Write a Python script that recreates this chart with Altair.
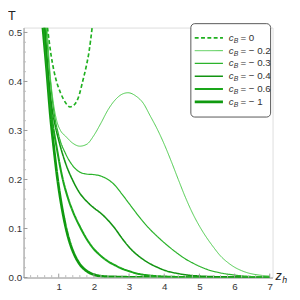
import altair as alt
import pandas as pd

# ---- data ----
names = ["0", "-0.2", "-0.3", "-0.4", "-0.6", "-1"]
labels = ["= 0", "= \u2212 0.2", "= \u2212 0.3", "= \u2212 0.4", "= \u2212 0.6", "= \u2212 1"]

z_c0 = [0.68, 0.78, 0.86, 0.95, 1.05, 1.2, 1.32, 1.45, 1.58, 1.68, 1.78, 1.86, 1.95]
t_c0 = [0.51, 0.455, 0.423, 0.397, 0.377, 0.356, 0.348, 0.353, 0.372, 0.400, 0.430, 0.460, 0.51]

z_c02 = [0.67, 0.75, 0.85, 0.95, 1.05, 1.2, 1.4, 1.6, 1.8, 2.0, 2.2, 2.4, 2.6, 2.8, 2.97, 3.2,
         3.4, 3.6, 3.8, 4.0, 4.2, 4.4, 4.6, 4.8, 5.0, 5.2, 5.4, 5.6, 5.8, 6.0, 6.2, 6.4, 6.7, 7.0]
t_c02 = [0.51, 0.42, 0.355, 0.318, 0.300, 0.288, 0.274, 0.268, 0.272, 0.290, 0.315, 0.342, 0.362,
         0.374, 0.377, 0.370, 0.356, 0.330, 0.303, 0.272, 0.237, 0.200, 0.164, 0.132, 0.105, 0.082,
         0.062, 0.044, 0.031, 0.021, 0.014, 0.009, 0.005, 0.003]

z_c03 = [0.64, 0.75, 0.85, 1.0, 1.2, 1.4, 1.6, 1.8, 2.0, 2.2, 2.4, 2.6, 2.8, 3.0, 3.2, 3.4, 3.6,
         3.8, 4.0, 4.2, 4.4, 4.6, 4.8, 5.0, 5.2, 5.5, 6.0, 6.5, 7.0]
t_c03 = [0.51, 0.41, 0.345, 0.29, 0.252, 0.228, 0.215, 0.211, 0.210, 0.207, 0.200, 0.188, 0.170,
         0.151, 0.132, 0.114, 0.098, 0.084, 0.071, 0.059, 0.048, 0.038, 0.030, 0.023, 0.017, 0.011,
         0.005, 0.002, 0.001]

z_c04 = [0.61, 0.7, 0.8, 0.9, 1.0, 1.2, 1.4, 1.6, 1.8, 2.0, 2.2, 2.4, 2.6, 2.8, 3.0, 3.2, 3.4,
         3.6, 3.8, 4.0, 4.4, 5.0, 6.0, 7.0]
t_c04 = [0.51, 0.42, 0.35, 0.31, 0.28, 0.232, 0.198, 0.172, 0.155, 0.142, 0.131, 0.117, 0.100,
         0.080, 0.062, 0.048, 0.037, 0.028, 0.021, 0.015, 0.008, 0.003, 0.001, 0.0]

z_c06 = [0.58, 0.7, 0.8, 0.95, 1.1, 1.25, 1.4, 1.6, 1.8, 2.0, 2.2, 2.4, 2.6, 2.8, 3.0, 3.3,
         3.6, 4.0, 5.0, 7.0]
t_c06 = [0.51, 0.40, 0.33, 0.262, 0.205, 0.165, 0.135, 0.104, 0.078, 0.058, 0.044, 0.033, 0.025,
         0.018, 0.013, 0.007, 0.004, 0.002, 0.0005, 0.0]

z_c1 = [0.55, 0.65, 0.78, 0.86, 0.95, 1.05, 1.15, 1.25, 1.35, 1.45, 1.6, 1.8, 2.0, 2.3, 2.7,
        3.2, 4.0, 5.0, 7.0]
t_c1 = [0.51, 0.43, 0.318, 0.265, 0.21, 0.16, 0.12, 0.088, 0.064, 0.046, 0.027, 0.013, 0.006,
        0.002, 0.001, 0.0003, 0.0, 0.0, 0.0]

x_major = [1, 2, 3, 4, 5, 6, 7]
y_major = [0.0, 0.1, 0.2, 0.3, 0.4, 0.5]
x_minor = [i / 5 for i in range(1, 36) if i % 5 != 0]
y_minor = [i / 50 for i in range(1, 26) if i % 5 != 0]

# ---- styles ----
colors = ["#1fb01f", "#47c847", "#2bb32b", "#129412", "#1aa61a", "#109a10"]
widths = [1.7, 1.0, 1.25, 1.6, 2.1, 2.8]
dashes = [[4, 2.5], [1, 0], [1, 0], [1, 0], [1, 0], [1, 0]]

series = [z_c0, z_c02, z_c03, z_c04, z_c06, z_c1]
tvals = [t_c0, t_c02, t_c03, t_c04, t_c06, t_c1]

W, H = 256, 257
xs = alt.Scale(domain=[0, 7.08], nice=False, zero=False)
ys = alt.Scale(domain=[0, 0.51], nice=False)
FONT = "Liberation Sans"
TXT = "#333333"

x_axis = alt.Axis(values=x_major, format="d", ticks=False, grid=False, title=None,
                  domainColor="#999999", labelColor=TXT, labelFont=FONT, labelFontSize=10,
                  labelPadding=4)
y_axis = alt.Axis(values=y_major, format=".1f", ticks=False, grid=False, title=None,
                  domainColor="#999999", labelColor=TXT, labelFont=FONT, labelFontSize=10,
                  labelPadding=2)

curve_layers = []
order_idx = [5, 4, 3, 2, 1, 0]
for k, j in enumerate(order_idx):
    d = pd.DataFrame({"z": series[j], "T": tvals[j], "i": list(range(len(series[j])))})
    first = (k == 0)
    curve_layers.append(
        alt.Chart(d).mark_line(clip=True, interpolate="monotone", color=colors[j],
                               strokeWidth=widths[j], strokeDash=dashes[j]).encode(
            x=alt.X("z:Q", scale=xs, axis=x_axis if first else None),
            y=alt.Y("T:Q", scale=ys, axis=y_axis if first else None),
            order="i:Q",
        )
    )

xt_major = alt.Chart(pd.DataFrame({"v": x_major})).mark_rule(color="#999999", strokeWidth=1).encode(
    x=alt.X("v:Q", scale=xs, axis=None), y=alt.value(H), y2=alt.value(H - 4))
xt_minor = alt.Chart(pd.DataFrame({"v": x_minor})).mark_rule(color="#bbbbbb", strokeWidth=1).encode(
    x=alt.X("v:Q", scale=xs, axis=None), y=alt.value(H), y2=alt.value(H - 2.5))
yt_major = alt.Chart(pd.DataFrame({"v": y_major})).mark_rule(color="#999999", strokeWidth=1).encode(
    y=alt.Y("v:Q", scale=ys, axis=None), x=alt.value(0), x2=alt.value(4))
yt_minor = alt.Chart(pd.DataFrame({"v": y_minor})).mark_rule(color="#bbbbbb", strokeWidth=1).encode(
    y=alt.Y("v:Q", scale=ys, axis=None), x=alt.value(0), x2=alt.value(2.5))

# axis titles
t_title = alt.Chart(pd.DataFrame({"s": ["T"]})).mark_text(
    font=FONT, fontSize=13, color="#222222", align="center", baseline="middle").encode(
    text="s:N", x=alt.value(-12), y=alt.value(-12))
z_title = alt.Chart(pd.DataFrame({"s": ["z"]})).mark_text(
    font=FONT, fontSize=13, fontStyle="italic", color="#222222", align="left", baseline="middle").encode(
    text="s:N", x=alt.value(259), y=alt.value(H - 1))
h_title = alt.Chart(pd.DataFrame({"s": ["h"]})).mark_text(
    font=FONT, fontSize=9, fontStyle="italic", color="#222222", align="left", baseline="middle").encode(
    text="s:N", x=alt.value(266), y=alt.value(H + 3))

# legend
leg = pd.DataFrame({"cB": names, "lab": labels, "c": ["c"] * 6, "B": ["B"] * 6})
ly = alt.Y("cB:N", scale=alt.Scale(domain=names, range=[4, 83], type="point"), axis=None)
box = alt.Chart(pd.DataFrame({"k": [0]})).mark_rect(
    fill="white", stroke="#555555", strokeWidth=1, cornerRadius=4).encode(
    x=alt.value(172), x2=alt.value(254), y=alt.value(-4), y2=alt.value(92))
leg_lines = [
    alt.Chart(pd.DataFrame({"cB": [names[j]]})).mark_rule(
        color=colors[j], strokeWidth=widths[j], strokeDash=dashes[j]).encode(
        y=ly, x=alt.value(176), x2=alt.value(205))
    for j in range(len(names))
]
leg_c = alt.Chart(leg).mark_text(font=FONT, fontSize=10, fontStyle="italic", color=TXT,
                                 align="left", baseline="middle").encode(
    y=ly, x=alt.value(211), text="c:N")
leg_b = alt.Chart(leg).mark_text(font=FONT, fontSize=7, fontStyle="italic", color=TXT,
                                 align="left", baseline="middle", dy=3).encode(
    y=ly, x=alt.value(216), text="B:N")
leg_t = alt.Chart(leg).mark_text(font=FONT, fontSize=10, color=TXT,
                                 align="left", baseline="middle").encode(
    y=ly, x=alt.value(223), text="lab:N")

legend = alt.layer(box, *leg_lines, leg_c, leg_b, leg_t).resolve_scale(y="shared")

chart = alt.layer(
    *curve_layers, xt_minor, xt_major, yt_minor, yt_major, t_title, z_title, h_title, legend
).resolve_scale(y="independent", x="independent").properties(
    width=W, height=H,
    autosize=alt.AutoSizeParams(type="none"),
    padding={"left": 16, "top": 16, "right": 20, "bottom": 19},
).configure_view(stroke=None).configure(background="white")

chart.save("out.html", embed_options={"renderer": "svg", "actions": False})
